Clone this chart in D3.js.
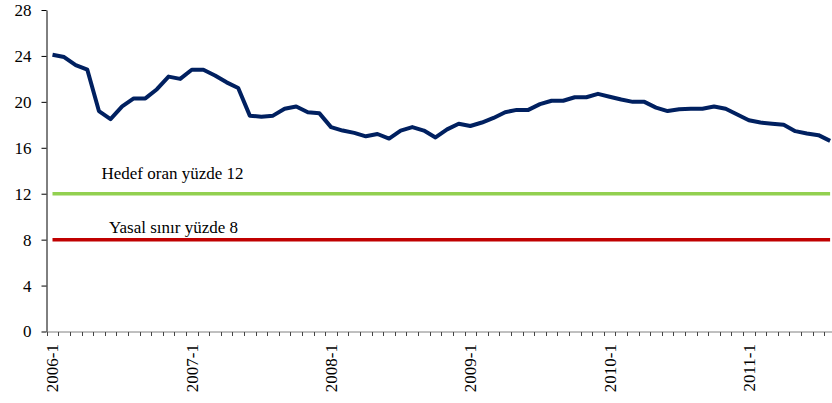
<!DOCTYPE html>
<html>
<head>
<meta charset="utf-8">
<script src="https://cdnjs.cloudflare.com/ajax/libs/d3/7.8.5/d3.min.js"></script>
<style>
  body { margin: 0; background: #fff; }
</style>
</head>
<body>
<div id="chart"></div>
<script>
// months 2006-1 .. 2011-8
var years = [2006, 2007, 2008, 2009, 2010, 2011];
var lastMonth = 8;
var categories = [];
years.forEach(function (y) {
    for (var m = 1; m <= 12; m++) {
        if (y === 2011 && m > lastMonth) break;
        categories.push(y + '-' + m);
    }
});

var ratio = [
    24.1, 23.9, 23.2, 22.8, 19.2, 18.5, 19.6, 20.3, 20.3, 21.1, 22.2, 22.0,
    22.8, 22.8, 22.3, 21.7, 21.2, 18.8, 18.7, 18.8, 19.4, 19.6, 19.1, 19.0,
    17.8, 17.5, 17.3, 17.0, 17.2, 16.8, 17.5, 17.8, 17.5, 16.9, 17.6, 18.1,
    17.9, 18.2, 18.6, 19.1, 19.3, 19.3, 19.8, 20.1, 20.1, 20.4, 20.4, 20.7,
    20.45, 20.2, 20.0, 20.0, 19.5, 19.2, 19.35, 19.4, 19.4, 19.6, 19.4, 18.9,
    18.4, 18.2, 18.1, 18.0, 17.45, 17.25, 17.1, 16.6
];

var targetValue = 12, targetLabel = 'Hedef oran yüzde 12';
var legalValue = 8, legalLabel = 'Yasal sınır yüzde 8';

var yTicks = [0, 4, 8, 12, 16, 20, 24, 28];
var xTickLabels = ['2006-1', '2007-1', '2008-1', '2009-1', '2010-1', '2011-1'];

var FONT = "'Liberation Serif', serif";
var width = 832, height = 403;
var x0 = 46.7, band = 11.606;

var svg = d3.select('#chart').append('svg')
    .attr('width', width)
    .attr('height', height);

var x = d3.scaleBand()
    .domain(categories)
    .range([x0, x0 + categories.length * band])
    .padding(0);

var y = d3.scaleLinear()
    .domain([0, 28])
    .range([331.5, 10]);

function cx(d) { return x(d) + x.bandwidth() / 2; }

// y axis
var yAxis = svg.append('g')
    .attr('transform', 'translate(46.5,0)')
    .call(d3.axisLeft(y).tickValues(yTicks).tickSize(5).tickPadding(10).tickSizeOuter(0))
    .attr('font-family', null)
    .style('font-family', FONT)
    .style('font-size', '17px');
yAxis.select('.domain').attr('stroke', '#000');
yAxis.selectAll('.tick line').attr('stroke', '#000');
yAxis.selectAll('.tick text')
    .attr('fill', '#000')
    .style('font-family', FONT)
    .style('font-size', '17px');

// x axis: ticks between months
var xAxis = svg.append('g')
    .attr('transform', 'translate(0,' + (y(0) + 0.5) + ')');
xAxis.append('line')
    .attr('x1', x0).attr('x2', x0 + categories.length * band)
    .attr('stroke', '#808080').attr('stroke-width', 1);
xAxis.selectAll('line.tk')
    .data(d3.range(categories.length + 1))
    .enter().append('line')
    .attr('class', 'tk')
    .attr('x1', function (i) { return Math.round(x0 + i * band) + 0.5; })
    .attr('x2', function (i) { return Math.round(x0 + i * band) + 0.5; })
    .attr('y1', 0).attr('y2', 4)
    .attr('stroke', '#444');
xAxis.selectAll('text')
    .data(xTickLabels)
    .enter().append('text')
    .attr('transform', function (d) { return 'translate(' + cx(d) + ',12) rotate(-90)'; })
    .attr('text-anchor', 'end')
    .attr('dy', '0.35em')
    .attr('fill', '#000')
    .style('font-family', FONT)
    .style('font-size', '17px')
    .text(function (d) { return d; });

// reference lines
var line = d3.line()
    .x(function (d) { return cx(d[0]); })
    .y(function (d) { return y(d[1]); });

svg.append('path')
    .datum(categories.map(function (c) { return [c, targetValue]; }))
    .attr('d', line)
    .attr('fill', 'none')
    .attr('stroke', '#92D050')
    .attr('stroke-width', 3.5);

svg.append('path')
    .datum(categories.map(function (c) { return [c, legalValue]; }))
    .attr('d', line)
    .attr('fill', 'none')
    .attr('stroke', '#C00000')
    .attr('stroke-width', 3.5);

svg.append('text')
    .attr('x', 101.5)
    .attr('y', y(targetValue) - 14.7)
    .attr('fill', '#000')
    .style('font-family', FONT)
    .style('font-size', '17px')
    .text(targetLabel);

svg.append('text')
    .attr('x', 109)
    .attr('y', y(legalValue) - 6.6)
    .attr('fill', '#000')
    .style('font-family', FONT)
    .style('font-size', '17px')
    .text(legalLabel);

// main series
svg.append('path')
    .datum(categories.map(function (c, i) { return [c, ratio[i]]; }))
    .attr('d', line)
    .attr('fill', 'none')
    .attr('stroke', '#002060')
    .attr('stroke-width', 4)
    .attr('stroke-linejoin', 'round');
</script>
</body>
</html>
